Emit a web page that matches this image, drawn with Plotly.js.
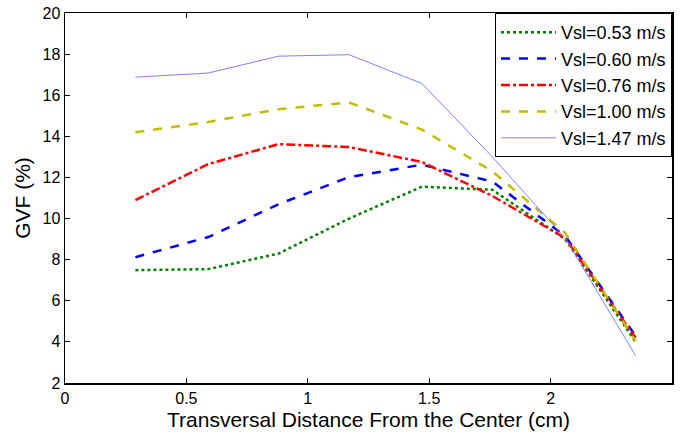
<!DOCTYPE html>
<html>
<head>
<meta charset="utf-8">
<script src="https://cdn.plot.ly/plotly-3.0.1.min.js"></script>
<style>html,body{margin:0;padding:0;background:#fff;}#chart{width:683px;height:441px;}</style>
</head>
<body>
<div id="chart"></div>
<script>
var xPos = [0.29, 0.59, 0.88, 1.17, 1.47, 1.76, 2.06, 2.35];
var seriesNames = ["Vsl=0.53 m/s", "Vsl=0.60 m/s", "Vsl=0.76 m/s", "Vsl=1.00 m/s", "Vsl=1.47 m/s"];
var gvf053 = [7.49, 7.54, 8.3, 10.0, 11.55, 11.4, 9.0, 4.0];
var gvf060 = [8.12, 9.1, 10.7, 12.02, 12.62, 11.8, 9.15, 4.29];
var gvf076 = [10.9, 12.65, 13.62, 13.48, 12.75, 11.1, 9.05, 4.2];
var gvf100 = [14.2, 14.7, 15.32, 15.65, 14.33, 12.3, 9.3, 4.05];
var gvf147 = [16.88, 17.08, 17.9, 17.97, 16.57, 13.0, 9.05, 3.33];
var tickVals = [0, 0.5, 1, 1.5, 2, 2.5];
var tickText = ["0", "0.5", "1", "1.5", "2", "2.5"];

var styles = [
  {color: "#008000", dash: "dot", width: 2.5},
  {color: "#0000ff", dash: "dash", width: 2.5},
  {color: "#ff0000", dash: "dashdot", width: 2.5},
  {color: "#bfbf00", dash: "dash", width: 2.5},
  {color: "#8080ff", dash: "solid", width: 1}
];
var allY = [gvf053, gvf060, gvf076, gvf100, gvf147];
var traces = allY.map(function(y, i){
  return {x: xPos, y: y, type: "scatter", mode: "lines", name: seriesNames[i], line: styles[i]};
});
var font = "Liberation Sans, Arial, sans-serif";
var layout = {
  width: 683, height: 441,
  margin: {l: 65, r: 11, t: 13, b: 58},
  paper_bgcolor: "#fff", plot_bgcolor: "#fff",
  font: {family: font, size: 16, color: "#000"},
  showlegend: true,
  legend: {x: 1, y: 1, xanchor: "right", yanchor: "top", bordercolor: "#000", borderwidth: 1,
           bgcolor: "#fff", itemwidth: 55, font: {family: font, size: 18, color: "#000"}},
  xaxis: {range: [0, 2.5], tickmode: "array", tickvals: tickVals, ticktext: tickText,
          ticks: "inside", ticklen: 5, tickcolor: "#000", showline: true, linecolor: "#000", linewidth: 1.5,
          mirror: "ticks", showgrid: false, zeroline: false, tickfont: {size: 16},
          title: {text: "Transversal Distance From the Center (cm)", font: {size: 21}, standoff: 6}},
  yaxis: {range: [2, 20], dtick: 2, ticks: "inside", ticklen: 5, tickcolor: "#000", showline: true,
          linecolor: "#000", linewidth: 1.5, mirror: "ticks", showgrid: false, zeroline: false, tickfont: {size: 16},
          title: {text: "GVF (%)", font: {size: 21}, standoff: 6}}
};
Plotly.newPlot("chart", traces, layout, {staticPlot: true});
</script>
</body>
</html>
